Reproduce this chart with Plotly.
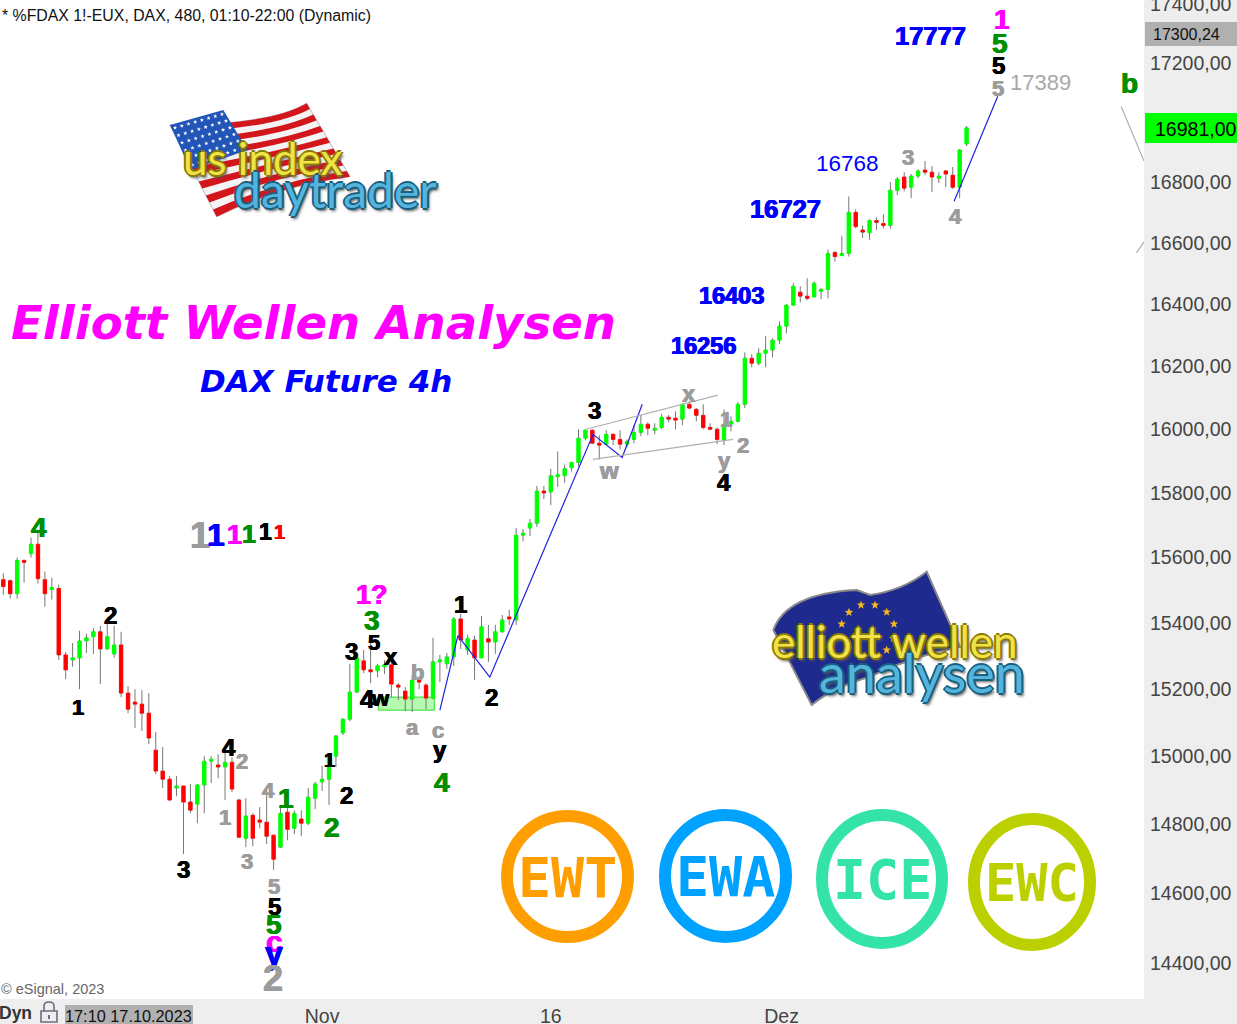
import math
import plotly.graph_objects as go

# ---------- data ----------
opens = [15532,15529,15489,15591,15612,15641,15532,15502,15505,15303,
15288,15294,15345,15358,15373,15321,15306,15333,15188,15161,
15155,15128,15018,14956,14932,14906,14912,14865,14859,14915,
14985,14974,14968,14982,14871,14759,14826,14812,14806,14768,
14733,14835,14788,14815,14803,14876,14924,14932,15000,15069,
15110,15191,15285,15258,15255,15267,15273,15212,15194,15170,
15227,15212,15173,15282,15276,15297,15412,15318,15348,15294,
15352,15342,15373,15418,15409,15669,15691,15706,15806,15803,
15851,15854,15879,15895,15972,15997,15956,15953,15984,15968,
15953,15968,15990,16016,15997,16006,16038,16035,16032,16079,
16063,16044,16006,16000,15965,16016,16025,16079,16226,16210,
16242,16252,16284,16329,16397,16439,16426,16423,16442,16448,
16568,16558,16565,16700,16642,16633,16673,16663,16657,16773,
16817,16783,16820,16840,16833,16813,16837,16823,16783,16927]
closes = [15511,15489,15591,15585,15641,15535,15489,15508,15303,15258,
15294,15345,15355,15373,15321,15358,15333,15188,15140,15155,
15128,15054,14956,14932,14871,14912,14865,14841,14915,14985,
14991,14968,14982,14903,14762,14824,14759,14806,14765,14698,
14832,14785,14832,14803,14879,14918,14932,15000,15060,15110,
15191,15294,15258,15252,15270,15273,15215,15206,15170,15227,
15221,15173,15282,15288,15297,15412,15348,15352,15294,15388,
15342,15373,15409,15412,15669,15675,15706,15806,15800,15854,
15857,15876,15895,15972,15997,15956,15950,15984,15968,15953,
15962,15990,16016,16003,16003,16038,16032,16029,16079,16067,
16044,16006,16000,15968,16016,16025,16079,16226,16210,16242,
16252,16284,16329,16397,16458,16426,16419,16468,16448,16565,
16555,16565,16700,16653,16635,16673,16667,16657,16773,16810,
16780,16820,16837,16833,16817,16820,16827,16783,16907,16981]
highs = [15551,15532,15600,15594,15662,15687,15557,15538,15517,15312,
15339,15376,15367,15385,15391,15409,15391,15373,15209,15200,
15197,15188,15072,15027,14941,14941,14912,14918,14918,15000,
15000,15006,15012,14997,14874,14876,14832,14850,14900,14768,
14850,14853,14841,14841,14906,14924,14971,15003,15063,15113,
15276,15294,15318,15345,15276,15288,15288,15218,15206,15242,
15239,15218,15355,15303,15309,15418,15427,15364,15361,15421,
15394,15394,15424,15440,15691,15688,15719,15822,15822,15876,
15930,15889,15898,16000,16000,16000,15981,15997,15987,15997,
15968,16013,16045,16022,16019,16048,16045,16057,16082,16089,
16067,16079,16019,16006,16063,16041,16086,16245,16239,16258,
16297,16290,16345,16400,16468,16458,16484,16474,16452,16578,
16574,16623,16753,16710,16657,16677,16683,16693,16800,16817,
16833,16827,16843,16870,16853,16833,16840,16850,16910,16987]
lows = [15486,15474,15474,15523,15600,15520,15449,15471,15288,15230,
15267,15200,15309,15306,15215,15318,15294,15176,15128,15084,
15075,15036,14947,14906,14868,14882,14713,14832,14803,14832,
14921,14935,14871,14894,14759,14733,14736,14788,14742,14667,
14730,14753,14771,14765,14797,14844,14897,14856,14968,15063,
15104,15188,15248,15218,15236,15245,15176,15167,15134,15131,
15200,15140,15170,15221,15261,15270,15321,15303,15227,15294,
15282,15306,15370,15394,15394,15650,15666,15694,15781,15762,
15819,15832,15867,15883,15965,15953,15905,15950,15950,15937,
15943,15956,15978,15981,15984,16000,16022,16000,16013,16063,
16025,16000,15997,15953,15950,15994,16022,16067,16197,16203,
16197,16229,16271,16306,16394,16406,16413,16423,16416,16419,
16539,16558,16555,16647,16616,16610,16642,16647,16647,16757,
16770,16747,16813,16823,16767,16797,16783,16777,16747,16920]
bars = list(range(len(opens)))

price_ticks = [14400,14600,14800,15000,15200,15400,15600,15800,16000,16200,16400,16600,16800,17200,17400]
date_tick_bars = [46, 79, 112.3]
date_tick_text = ["Nov", "16", "Dez"]

wave_x = [63, 65.6, 70.2, 85.1, 89.3, 92.2]
wave_y = [15137, 15361, 15236, 15984, 15911, 16079]
last_x = [137.2, 143.5]
last_y = [16737, 17087]
channel_up_x = [84.1, 103.1]
channel_up_y = [16000, 16108]
channel_lo_x = [85.1, 105.3]
channel_lo_y = [15905, 15968]
b_line_x = [161.3, 164.6]
b_line_y = [17053, 16870]
b_line2_x = [163.5, 164.6]
b_line2_y = [16567, 16603]

W, H, PW, PH = 1237, 1024, 1144, 999
fx = lambda p: p / PW
fy = lambda p: 1 - p / PH
pt = lambda x, y: f"{fx(x):.5f},{fy(y):.5f}"

fig = go.Figure()

# wicks (outside the body only, bodies come from the candlestick trace)
wx, wy = [], []
for i, o, h, l, c in zip(bars, opens, highs, lows, closes):
    wx += [i, i, None, i, i, None]
    wy += [h, max(o, c), None, min(o, c), l, None]
fig.add_trace(go.Scatter(x=wx, y=wy, mode="lines", line=dict(color="#777777", width=1), connectgaps=False, hoverinfo="skip"))

GREEN, RED = "#00FF00", "#FF0000"
fig.add_trace(go.Candlestick(
    x=bars, open=opens, close=closes,
    high=[max(o, c) for o, c in zip(opens, closes)],
    low=[min(o, c) for o, c in zip(opens, closes)],
    increasing=dict(line=dict(color=GREEN, width=1), fillcolor=GREEN),
    decreasing=dict(line=dict(color=RED, width=1), fillcolor=RED),
    whiskerwidth=0, hoverinfo="skip",
))
for xs, ys, col in [(wave_x, wave_y, "#2020E0"), (last_x, last_y, "#2020E0"),
                    (channel_up_x, channel_up_y, "#B0B0B0"), (channel_lo_x, channel_lo_y, "#B0B0B0"),
                    (b_line_x, b_line_y, "#B0B0B0"), (b_line2_x, b_line2_y, "#B0B0B0")]:
    fig.add_trace(go.Scatter(x=xs, y=ys, mode="lines", line=dict(color=col, width=1.2), hoverinfo="skip"))

shapes, anns = [], []

def path(d, fill="rgba(0,0,0,0)", line=None, lw=0, layer="above"):
    shapes.append(dict(type="path", xref="paper", yref="paper", path=d, fillcolor=fill,
                       line=dict(color=line or "rgba(0,0,0,0)", width=lw), layer=layer))

def rect(x0, y0, x1, y1, fill, line=None, lw=0):
    shapes.append(dict(type="rect", xref="paper", yref="paper", x0=fx(x0), x1=fx(x1), y0=fy(y1), y1=fy(y0),
                       fillcolor=fill, line=dict(color=line or fill, width=lw), layer="above"))

def ring(x0, y0, x1, y1, col, lw=12):
    shapes.append(dict(type="circle", xref="paper", yref="paper", x0=fx(x0 + lw/2), x1=fx(x1 - lw/2),
                       y0=fy(y1 - lw/2), y1=fy(y0 + lw/2), fillcolor="rgba(0,0,0,0)",
                       line=dict(color=col, width=lw), layer="above"))

def text(t, x, y, size, color, bold=True, italic=False, family="Liberation Sans", anchor="center", shadow=None):
    font = dict(family=family, size=size, color=color, weight=700 if bold else 400,
                style="italic" if italic else "normal")
    if shadow:
        font["shadow"] = shadow
    anns.append(dict(text=t, x=fx(x), y=fy(y), xref="paper", yref="paper", xanchor=anchor, yanchor="middle",
                     showarrow=False, font=font, borderpad=0, borderwidth=0))

def star_path(cx, cy, r):
    s = []
    for k in range(10):
        a = -math.pi / 2 + k * math.pi / 5
        rr = r if k % 2 == 0 else r * 0.42
        s.append(pt(cx + rr * math.cos(a), cy + rr * math.sin(a)))
    return "M" + "L".join(s) + "Z"

# green consolidation box, on the price scale
shapes.append(dict(type="rect", xref="x", yref="y", x0=54.1, x1=62.2, y0=15137, y1=15176,
                   fillcolor="#B5FBAF", line=dict(color="#33DD33", width=1), layer="below"))

# ---- axis tags ----
rect(1145, 22, 1237, 46, "#B0B0B0")
text("17300,24", 1186, 34.5, 16, "#111111", bold=False)
rect(1145, 113, 1237, 143, "#00FF00")
text("16981,00", 1195, 129, 19.5, "#000000", bold=False)
rect(65, 1005, 193, 1024, "#B0B0B0")
text("17:10 17.10.2023", 128, 1016, 16.3, "#111111", bold=False)
text("Dyn", -1, 1013, 17.5, "#333333", anchor="left")
# lock
path(f"M{pt(41,1011)}L{pt(57,1011)}L{pt(57,1022)}L{pt(41,1022)}Z", line="#6A6F80", lw=1.6)
path(f"M{pt(44,1011)}L{pt(44,1006)}Q{pt(44,1002)} {pt(49,1002)}Q{pt(54,1002)} {pt(54,1006)}L{pt(54,1011)}", line="#6A6F80", lw=1.6)
path(f"M{pt(48,1015)}L{pt(50,1015)}L{pt(50,1019)}L{pt(48,1019)}Z", fill="#6A6F80")

# ---- texts ----
text("* %FDAX 1!-EUX, DAX, 480, 01:10-22:00 (Dynamic)", 2, 16, 15.85, "#111111", bold=False, anchor="left")
text("© eSignal, 2023", 1, 989, 14.5, "#666666", bold=False, anchor="left")
text("Elliott Wellen Analysen", 313, 323, 46.6, "#FF00FF", italic=True, family="DejaVu Sans")
text("DAX Future 4h", 326, 381, 31, "#0000FF", italic=True, family="DejaVu Sans")

BLK, GRY, GRN, MAG, BLU = "#000000", "#9C9C9C", "#008F00", "#FF00FF", "#0000FF"
labels = [
 ("1",200,535,36,GRY),("1",216,535,32,BLU),("1",234,535,27,MAG),("1",249,534,25,GRN),("1",265,532,23,BLK),("1",279,532,20,RED),
 ("4",39,527,28,GRN),("2",110,615,24,BLK),("1",78,707,22,BLK),("3",183,869,24,BLK),("4",229,747,24,BLK),
 ("2",242,761,22,GRY),("1",225,817,22,GRY),("4",268,790,22,GRY),("1",286,798,28,GRN),("3",247,861,22,GRY),
 ("2",332,827,28,GRN),("2",346,795,24,BLK),("1",329,760,20,BLK),
 ("5",274,886,22,GRY),("5",274,906,24,BLK),("5",274,924,28,GRN),("c",274,941,30,MAG),("y",274,953,32,BLU),("2",273,978,36,GRY),
 ("1?",372,595,27,MAG),("3",372,620,28,GRN),("5",374,642,22,BLK),("3",351,651,24,BLK),("x",391,656,24,BLK),
 ("4",367,699,26,BLK),("w",380,698,22,BLK),("b",417,672,22,GRY),("a",412,727,22,GRY),("c",438,730,22,GRY),
 ("y",440,749,24,BLK),("4",442,782,28,GRN),("1",460,604,24,BLK),("2",491,697,24,BLK),
 ("3",594,411,24,BLK),("w",609,471,24,GRY),("x",689,393,24,GRY),("1",726,419,22,GRY),("2",743,445,22,GRY),
 ("y",724,460,22,GRY),("4",724,482,24,BLK),("3",908,157,22,GRY),("4",955,216,22,GRY),
 ("5",998,88,22,GRY),("5",998,66,24,BLK),("5",1000,43,28,GRN),("1",1002,19,28,MAG),("b",1129,83,28,GRN),
 ("17777",930,36,25.5,BLU),("16727",785,209,25.5,BLU),("16403",731,296,23.5,BLU),("16256",703,346,23.5,BLU),
]
for t, x, y, s, c in labels:
    text(t, x, y, s, c, shadow=f"0.6px 0 {c}, -0.6px 0 {c}, 0 0.4px {c}")
text("17389", 1040, 82, 22, "#A8A8A8", bold=False)
text("16768", 847, 163, 22.5, BLU, bold=False)

# ---- US logo ----
ux = lambda z: 160 + z / 3
uy = lambda z: 90 + z / 3
def lerp(a, b, t):
    return (a[0] + (b[0] - a[0]) * t, a[1] + (b[1] - a[1]) * t)
def up(p):
    return pt(ux(p[0]), uy(p[1]))
LT, LB = (30, 105), (170, 380)
CT, CB = (330, 105), (360, 285)
RT, RB = (440, 40), (570, 260)
path(f"M{up(lerp(LT,LB,0))}Q{up(CT)} {up(RT)}L{up(RB)}Q{up(CB)} {up(LB)}Z", fill="#F4F4F4", line="#BBBBBB", lw=1)
n = 13
for j in range(0, n, 2):
    t0, t1 = j / n, (j + 1) / n
    path(f"M{up(lerp(LT,LB,t0))}Q{up(lerp(CT,CB,t0))} {up(lerp(RT,RB,t0))}L{up(lerp(RT,RB,t1))}"
         f"Q{up(lerp(CT,CB,t1))} {up(lerp(LT,LB,t1))}Z", fill="#D2161C")
c1, c2, c3, c4 = (30, 105), (190, 60), (262, 180), (92, 240)
path(f"M{up(c1)}L{up(c2)}L{up(c3)}L{up(c4)}Z", fill="#2255B8")
st = ""
for a in range(8):
    for b in range(6):
        s, t = (a + 0.5) / 8, (b + 0.5) / 6
        p = lerp(lerp(c1, c2, s), lerp(c4, c3, s), t)
        st += star_path(ux(p[0]), uy(p[1]), 2.2)
path(st, fill="#FFFFFF")
yshadow = "-2px 0 #8A7A00, 2px 0 #8A7A00, 0 -2px #8A7A00, 0 2px #8A7A00, 2px 3px 3px #555555"
bshadow = "-2px 0 #17607F, 2px 0 #17607F, 0 -2px #17607F, 0 2px #17607F, 2px 3px 3px #555555"
text("us index", 263, 158, 44, "#F2E24A", bold=False, family="Lato", shadow=yshadow)
text("daytrader", 335, 190, 48, "#55B4DE", bold=False, family="Lato", shadow=bshadow)

# ---- EU logo ----
ex = lambda z: 760 + z / 3
ey = lambda z: 560 + z / 3
ep = lambda a, b: pt(ex(a), ey(b))
path(f"M{ep(40,210)}Q{ep(80,100)} {ep(290,90)}L{ep(330,105)}Q{ep(430,90)} {ep(500,35)}L{ep(600,260)}"
     f"Q{ep(450,290)} {ep(330,350)}Q{ep(220,380)} {ep(155,435)}Z", fill="#1E2A8E", line="#8A8A8A", lw=2)
eu_stars = ""
for a, b in [(267,157),(303,135),(345,135),(380,156),(402,192),(400,235),(380,270),(245,192)]:
    eu_stars += star_path(ex(a), ey(b), 4.5)
path(eu_stars, fill="#F5B81E")
text("elliott wellen", 895, 641, 44, "#F2E24A", bold=False, family="Lato", shadow=yshadow)
text("analysen", 922, 672, 54, "#55B4DE", bold=False, family="Lato", shadow=bshadow)

# ---- channel badges ----
badges = [("EWT", 501, 810, 634, 943, "#FF9E00", 55), ("EWA", 659, 809, 792, 943, "#00A2FF", 55),
          ("ICE", 816, 809, 948, 949, "#33E3AA", 55), ("EWC", 968, 813, 1096, 951, "#BCD000", 52)]
for t, x0, y0, x1, y1, c, fs in badges:
    ring(x0, y0, x1, y1, c)
    text(t, (x0 + x1) / 2, (y0 + y1) / 2 + 1, fs, c, family="DejaVu Sans Mono")

fig.update_layout(
    width=W, height=H, showlegend=False, autosize=False,
    margin=dict(l=0, r=W - PW, t=0, b=H - PH, pad=0, autoexpand=False),
    paper_bgcolor="#EEEEEE", plot_bgcolor="#FFFFFF", separators=",.",
    shapes=shapes, annotations=anns,
    xaxis=dict(range=[-0.476, 164.6], type="linear", showgrid=False, zeroline=False, showline=False, ticks="",
               tickmode="array", tickvals=date_tick_bars, ticktext=date_tick_text, rangeslider=dict(visible=False),
               tickfont=dict(family="Liberation Sans", size=19.5, color="#444444"), ticklabelstandoff=3,
               ticklabeloverflow="allow", fixedrange=True, automargin=False),
    yaxis=dict(type="log", range=[math.log10(14298), math.log10(17415)], side="right", showgrid=False,
               zeroline=False, showline=False, ticks="", tickmode="array", tickvals=price_ticks,
               tickformat=".2f", tickfont=dict(family="Liberation Sans", size=19.5, color="#444444"),
               ticklabelstandoff=5, ticklabeloverflow="allow", fixedrange=True, automargin=False),
)
fig.write_html("out.html", config={"displayModeBar": False},
               post_script="document.body.style.margin='0';document.body.style.overflow='hidden';")
